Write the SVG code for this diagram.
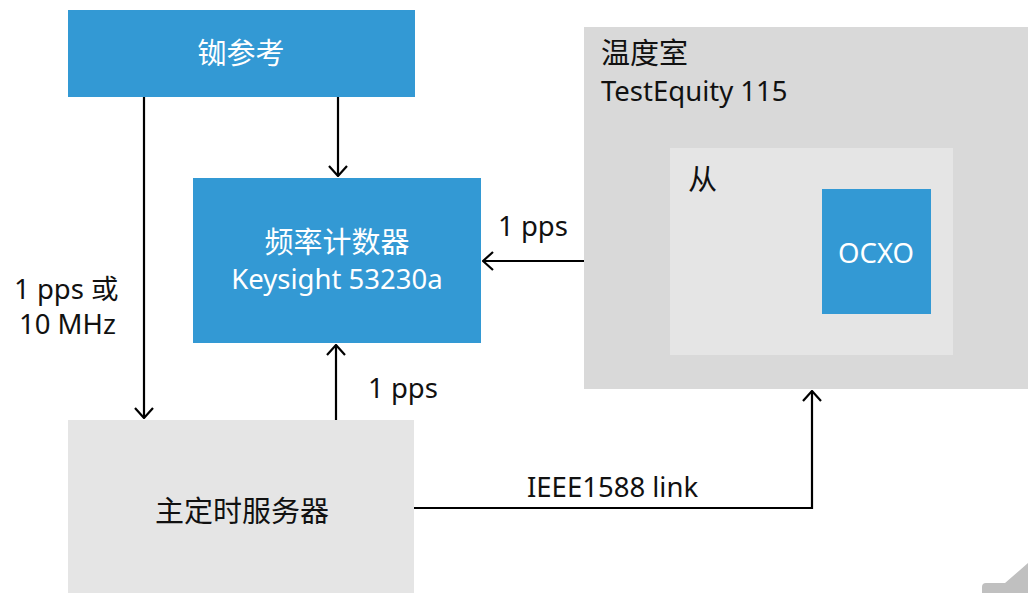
<svg xmlns="http://www.w3.org/2000/svg" width="1028" height="593" viewBox="0 0 1028 593">
  <defs>
    <marker id="arrow" viewBox="0 0 12 20" refX="11" refY="10" markerWidth="12" markerHeight="20" markerUnits="userSpaceOnUse" orient="auto">
      <path d="M1,1 L11,10 L1,19" fill="none" stroke="#000" stroke-width="2.2"/>
    </marker>
  </defs>
  <style>
    .blue { fill: #3399d4; }
    .light { fill: #e5e5e5; }
    .mid { fill: #d9d9d9; }
    text { font-family: "Segoe UI", "Noto Sans", "Noto Sans CJK SC", sans-serif; font-size: 27.5px; }
    .cjk { font-size: 29px; }
    .w { fill: #ffffff; }
    .k { fill: #111111; }
    .c { text-anchor: middle; }
    .wire { fill: none; stroke: #000; stroke-width: 2.2; marker-end: url(#arrow); }
  </style>

  <rect width="1028" height="593" fill="#ffffff"/>

  <g id="rubidium-ref">
    <rect class="blue" x="68" y="10" width="347" height="87"/>
    <text class="w c cjk" x="241" y="64">铷参考</text>
  </g>

  <g id="freq-counter">
    <rect class="blue" x="193" y="178" width="288" height="165"/>
    <text class="w c cjk" x="337" y="253">频率计数器</text>
    <text class="w c" x="337" y="289">Keysight 53230a</text>
  </g>

  <g id="grandmaster">
    <rect class="light" x="68" y="420" width="346" height="173"/>
    <text class="k c cjk" x="242" y="522">主定时服务器</text>
  </g>

  <g id="chamber">
    <rect class="mid" x="584" y="27" width="444" height="362"/>
    <text class="k cjk" x="601" y="64">温度室</text>
    <text class="k" x="601" y="101">TestEquity 115</text>
  </g>

  <g id="slave">
    <rect class="light" x="670" y="148" width="283" height="207"/>
    <text class="k cjk" x="688" y="190">从</text>
  </g>

  <g id="ocxo">
    <rect class="blue" x="822" y="189" width="109" height="125"/>
    <text class="w c" x="876" y="263">OCXO</text>
  </g>

  <g id="corner-tab">
    <path d="M982,593 L982,587 Q982,583 986,583 L1005,583 L1028,563 L1028,593 Z" fill="#c0c0c0"/>
  </g>

  <g id="connectors">
    <path class="wire" d="M144,97 L144,418"/>
    <path class="wire" d="M338,97 L338,176"/>
    <path class="wire" d="M336,420 L336,345"/>
    <path class="wire" d="M584,261 L483,261"/>
    <path class="wire" d="M414,508 L812,508 L812,391"/>
  </g>

  <g id="labels">
    <text class="k" x="498" y="236">1 pps</text>
    <text class="k" x="14" y="299">1 pps 或</text>
    <text class="k" x="19" y="334">10 MHz</text>
    <text class="k" x="368" y="398">1 pps</text>
    <text class="k" x="527" y="497">IEEE1588 link</text>
  </g>
</svg>
